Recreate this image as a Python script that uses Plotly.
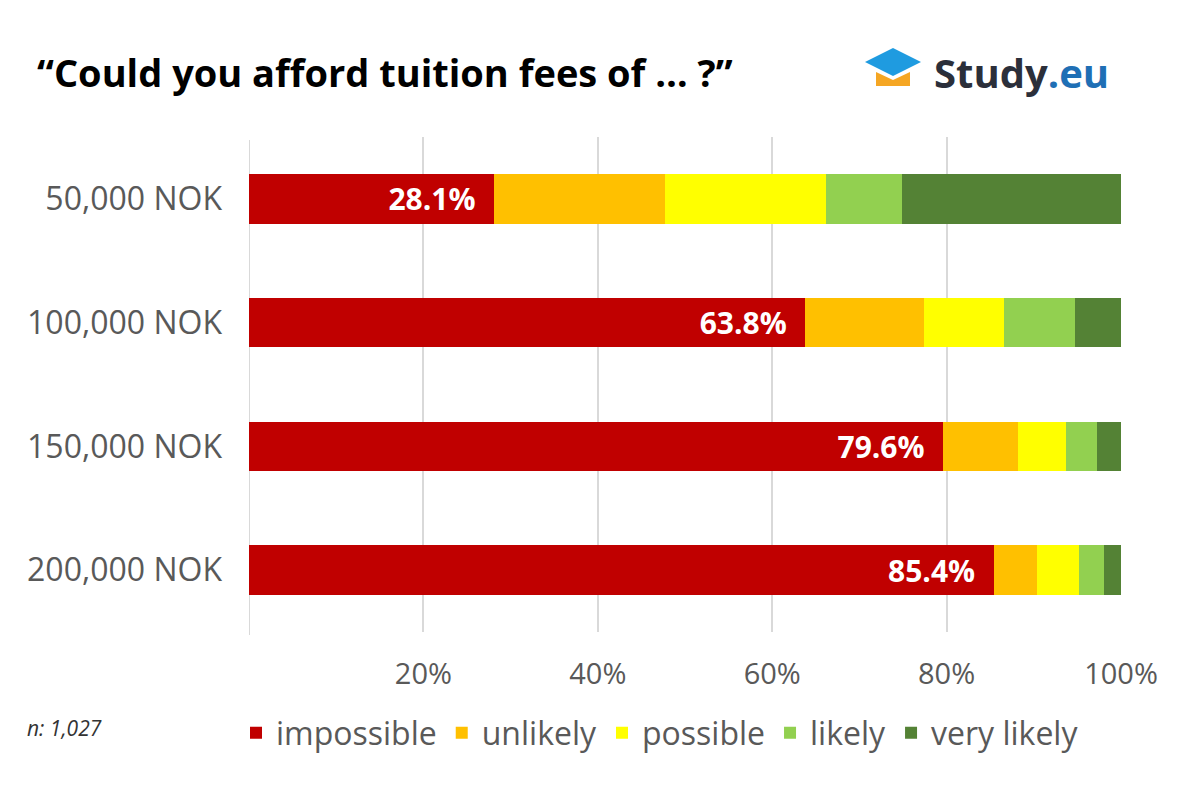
import plotly.graph_objects as go

categories = ["50,000 NOK", "100,000 NOK", "150,000 NOK", "200,000 NOK"]
series_names = ["impossible", "unlikely", "possible", "likely", "very likely"]
impossible = [28.1, 63.8, 79.6, 85.4]
unlikely = [19.6, 13.6, 8.6, 5.0]
possible = [18.5, 9.2, 5.5, 4.8]
likely = [8.7, 8.1, 3.5, 2.9]
very_likely = [25.1, 5.3, 2.8, 1.9]
colors = ["#c00000", "#ffc000", "#ffff00", "#92d050", "#548235"]
tick_vals = [0, 20, 40, 60, 80, 100]
tick_text = ["", "20%", "40%", "60%", "80%", "100%"]

FONT = "Open Sans"
OFF = 8  # page body offset
W, H = 1200, 788
l, r, t, b = 249 - OFF, 79 + OFF, 137 - OFF, 156 + OFF
pw, ph = W - l - r, H - t - b

def px(x):
    return (x - OFF - l) / pw

def py(y):
    return 1 - (y - OFF - t) / ph

fig = go.Figure()
for name, vals, c in zip(series_names, [impossible, unlikely, possible, likely, very_likely], colors):
    fig.add_trace(go.Bar(
        y=categories, x=vals, name=name, orientation="h", marker=dict(color=c, line=dict(width=0)),
        width=0.4,
        text=[f"<b>{v:.1f}%</b>  " for v in vals] if name == "impossible" else None,
        textposition="inside", insidetextanchor="end",
        textfont=dict(color="white", size=30, family=FONT),
        hoverinfo="skip",
    ))

fig.update_layout(
    barmode="stack", width=W, height=H, paper_bgcolor="white", plot_bgcolor="white",
    margin=dict(l=l, r=r, t=t, b=b),
    font=dict(family=FONT, color="#595959"),
    xaxis=dict(range=[0, 100], tickvals=tick_vals, ticktext=tick_text, showgrid=True,
               gridcolor="#d9d9d9", gridwidth=2, zeroline=False, tickfont=dict(size=29, color="#595959"),
               ticks="", ticklabelstandoff=22),
    yaxis=dict(categoryorder="array", categoryarray=categories[::-1], tickfont=dict(size=32, color="#595959"),
               ticks="", ticklabelstandoff=26),
    legend=dict(orientation="h", x=px(236), xanchor="left", y=py(733), yanchor="middle",
                font=dict(size=32, color="#595959"), traceorder="normal", itemwidth=30),
    showlegend=True,
    annotations=[
        dict(text="<b>“Could you afford tuition fees of … ?”</b>", x=px(35), y=py(72), xref="paper", yref="paper",
             showarrow=False, font=dict(size=38, color="#000", family=FONT), xanchor="left", yanchor="middle"),
        dict(text="<i>n: 1,027</i>", x=px(25), y=py(728), xref="paper", yref="paper", showarrow=False,
             font=dict(size=21, color="#333", family=FONT), xanchor="left", yanchor="middle"),
        dict(text="<b><span style='color:#2b2f3a'>Study</span><span style='color:#1f6fb5'>.eu</span></b>",
             x=px(932), y=py(72), xref="paper", yref="paper", showarrow=False,
             font=dict(size=40, family=FONT), xanchor="left", yanchor="middle"),
    ],
)
fig.add_shape(type="line", xref="x", yref="paper", x0=0, x1=0, y0=py(635), y1=py(140),
              line=dict(color="#d9d9d9", width=2), layer="below")
fig.add_shape(type="path", xref="paper", yref="paper",
              path=f"M {px(865)} {py(62)} L {px(893)} {py(48)} L {px(921)} {py(62)} L {px(893)} {py(76)} Z",
              fillcolor="#1f9be0", line=dict(width=0))
fig.add_shape(type="path", xref="paper", yref="paper",
              path=f"M {px(876)} {py(72)} L {px(876)} {py(86)} L {px(910)} {py(86)} L {px(910)} {py(72)} L {px(893)} {py(80)} Z",
              fillcolor="#f5a623", line=dict(width=0))
fig.write_html("out.html")
